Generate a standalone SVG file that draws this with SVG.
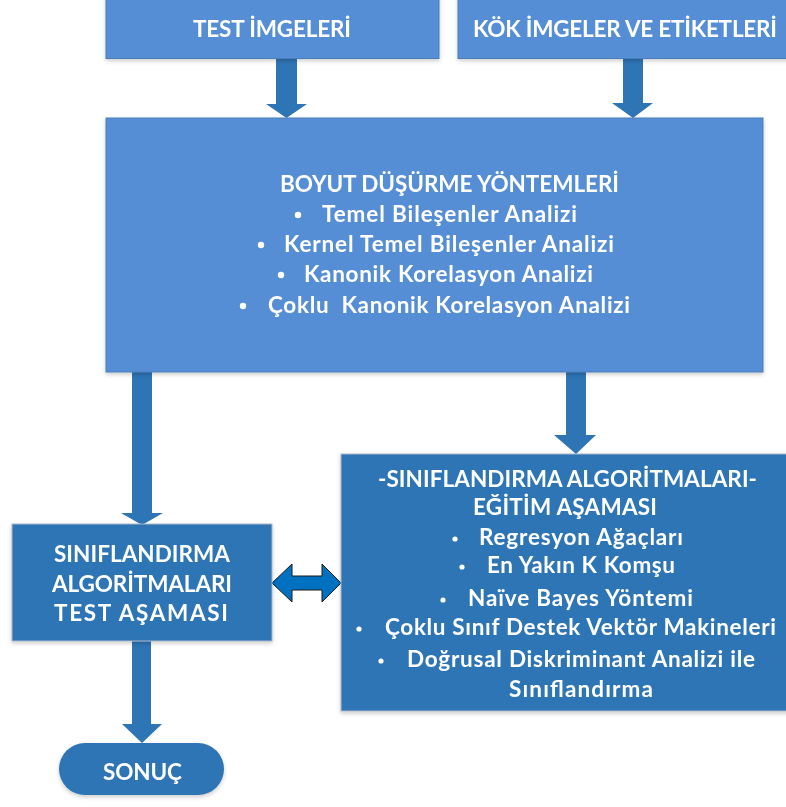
<svg xmlns="http://www.w3.org/2000/svg" width="786" height="807" viewBox="0 0 786 807">
<defs>
<filter id="sh" x="-5%" y="-5%" width="110%" height="115%">
<feDropShadow dx="0" dy="2" stdDeviation="2" flood-color="#000" flood-opacity="0.2"/>
</filter>
</defs>
<style>
.lt{fill:#558ED5;stroke:#4A7EBB;stroke-width:1}
.dk{fill:#2E75B6;stroke:#A9B8C8;stroke-width:1}
.ar{fill:#2E75B6}
.t{font-family:Lato,"Liberation Sans",sans-serif;font-weight:bold;fill:#fff;font-size:22.5px}
.c{text-anchor:middle}
.b{fill:#fff}
</style>
<rect width="786" height="807" fill="#fff"/>
<g id="connectors">
<polygon class="ar" points="276,58 297,58 297,104 307,104 286.5,118 266,104 276,104"/>
<polygon class="ar" points="623,58 643,58 643,103 653,103 633,118 612,103 623,103"/>
<polygon class="ar" points="132,372 152,372 152,513 163,513 142,525 121,513 132,513"/>
<polygon class="ar" points="566,372 586,372 586,435 596,435 576,454 554,435 566,435"/>
<polygon class="ar" points="132,641 151,641 151,724 162,724 142,743 122,724 132,724"/>
<polygon fill="#0070C0" stroke="#1A1A1A" stroke-width="1" points="272,583 292,564 292,576 322,576 322,564 341,583 322,602 322,590 292,590 292,602"/>
</g>
<g id="test-imgeleri" filter="url(#sh)">
<rect class="lt" x="106" y="-10" width="333" height="68.5"/>
<text class="t c" x="272" y="37" textLength="158" lengthAdjust="spacing">TEST İMGELERİ</text>
</g>
<g id="kok-imgeler" filter="url(#sh)">
<rect class="lt" x="458" y="-10" width="340" height="68.5"/>
<text class="t c" x="625" y="37" textLength="304" lengthAdjust="spacing">KÖK İMGELER VE ETİKETLERİ</text>
</g>
<g id="boyut" filter="url(#sh)">
<rect class="lt" x="106" y="118" width="657" height="254"/>
<text class="t c" x="449.5" y="192" textLength="339" lengthAdjust="spacing">BOYUT DÜŞÜRME YÖNTEMLERİ</text>
<circle class="b" cx="298" cy="215" r="3.2"/>
<text class="t" x="322" y="222" textLength="255" lengthAdjust="spacing">Temel Bileşenler Analizi</text>
<circle class="b" cx="261" cy="245" r="3.2"/>
<text class="t" x="284" y="252" textLength="330" lengthAdjust="spacing">Kernel Temel Bileşenler Analizi</text>
<circle class="b" cx="281" cy="275" r="3.2"/>
<text class="t" x="304" y="282" textLength="289" lengthAdjust="spacing">Kanonik Korelasyon Analizi</text>
<circle class="b" cx="243" cy="306" r="3.2"/>
<text class="t" x="268" y="313" textLength="362" lengthAdjust="spacing" xml:space="preserve">Çoklu  Kanonik Korelasyon Analizi</text>
</g>
<g id="egitim" filter="url(#sh)">
<rect class="dk" x="341" y="454" width="460" height="257"/>
<text class="t c" x="567.5" y="487" textLength="379" lengthAdjust="spacing">-SINIFLANDIRMA ALGORİTMALARI-</text>
<text class="t c" x="565" y="515" textLength="184" lengthAdjust="spacing">EĞİTİM AŞAMASI</text>
<circle class="b" cx="455" cy="539" r="2.6"/>
<text class="t" x="479" y="545" textLength="204" lengthAdjust="spacing">Regresyon Ağaçları</text>
<circle class="b" cx="462" cy="567" r="2.6"/>
<text class="t" x="487" y="573" textLength="188" lengthAdjust="spacing">En Yakın K Komşu</text>
<circle class="b" cx="443" cy="600" r="2.6"/>
<text class="t" x="468" y="606" textLength="225" lengthAdjust="spacing">Naïve Bayes Yöntemi</text>
<circle class="b" cx="359" cy="629" r="2.6"/>
<text class="t" x="385" y="635" textLength="391" lengthAdjust="spacing">Çoklu Sınıf Destek Vektör Makineleri</text>
<circle class="b" cx="381" cy="661" r="2.6"/>
<text class="t" x="407" y="667" textLength="348" lengthAdjust="spacing">Doğrusal Diskriminant Analizi ile</text>
<text class="t c" x="581" y="697" textLength="144" lengthAdjust="spacing">Sınıflandırma</text>
</g>
<g id="test-asamasi" filter="url(#sh)">
<rect class="dk" x="12" y="524" width="260" height="117"/>
<text class="t c" x="142" y="562" textLength="176" lengthAdjust="spacing">SINIFLANDIRMA</text>
<text class="t c" x="142" y="592" textLength="180" lengthAdjust="spacing">ALGORİTMALARI</text>
<text class="t c" x="141" y="621" textLength="174" lengthAdjust="spacing">TEST AŞAMASI</text>
</g>
<g id="sonuc" filter="url(#sh)">
<rect class="ar" x="59" y="743" width="165" height="52" rx="26" ry="26"/>
<text class="t c" x="142.5" y="780" textLength="79" lengthAdjust="spacing">SONUÇ</text>
</g>
</svg>
